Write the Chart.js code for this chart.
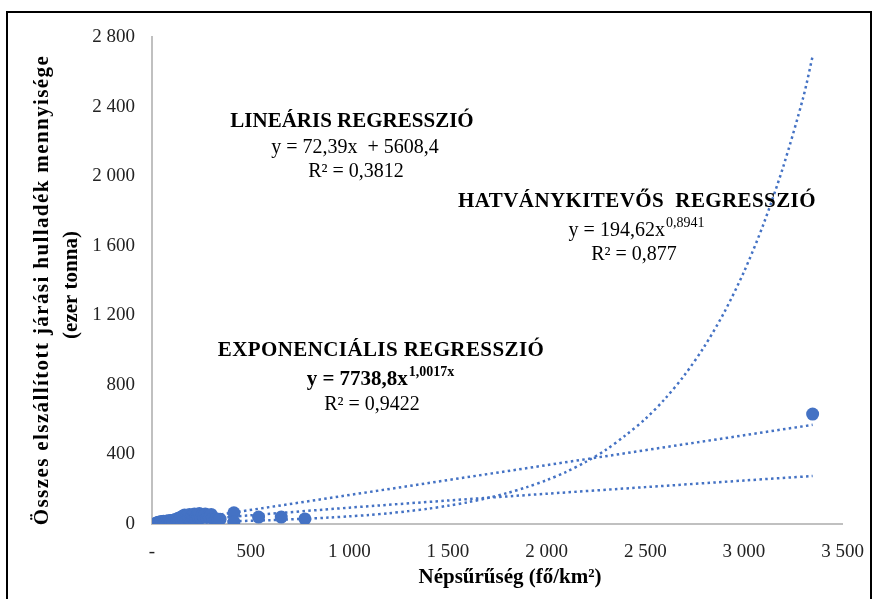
<!DOCTYPE html>
<html>
<head>
<meta charset="utf-8">
<script src="https://cdn.jsdelivr.net/npm/chart.js@4"></script>
<style>
html,body{margin:0;padding:0;background:#fff;}
#wrap{position:relative;width:873px;height:599px;}
</style>
</head>
<body>
<div id="wrap"><canvas id="c" width="873" height="599"></canvas></div>
<script>
// Népsűrűség (fő/km²) of the districts
const densities = [18,22,25,28,30,33,35,38,40,42,45,48,50,52,55,58,60,63,65,68,70,73,75,78,80,83,85,88,90,93,95,98,100,105,108,112,115,120,125,128,132,135,140,
  145,150,155,160,165,170,175,180,185,190,195,200,205,210,215,220,225,230,235,240,248,255,262,270,278,285,292,300,308,
  318,325,335,345,
  415,415,540,655,775,3348];
// Összes elszállított hulladék (ezer tonna)
const wasteValues = [3,5,2,8,4,10,6,3,12,7,5,14,9,4,11,16,7,13,5,10,15,8,17,12,6,14,18,10,16,8,20,13,17,22,11,19,24,15,28,20,33,18,26,
  38,22,45,30,52,25,40,48,35,55,28,44,50,36,58,30,46,54,40,60,35,52,45,57,38,50,42,55,33,
  25,30,22,28,
  64,12,40,40,29,632];

// Trend lines
const linTrendX = [30, 3348];
const linTrendY = [0, 570];
const powTrendX = [30, 200, 500, 1000, 1500, 2000, 2500, 3000, 3348];
const powTrendY = [4, 22, 50, 94, 135, 174, 212, 250, 276];
const expTrendX = [30, 300, 600, 900, 1000, 1100, 1200, 1300, 1400, 1500, 1600, 1700, 1800, 1900, 2000, 2100, 2200, 2300, 2400, 2500, 2600, 2700, 2800, 2900, 3000, 3100, 3200, 3300, 3348];
const expTrendY = [8, 13, 22, 37, 44, 52, 62, 74, 88, 105, 125, 149, 178, 212, 252, 300, 358, 426, 510, 604, 720, 858, 1022, 1217, 1450, 1727, 2058, 2451, 2690];

const xTicks = [0, 500, 1000, 1500, 2000, 2500, 3000, 3500];
const yTicks = [0, 400, 800, 1200, 1600, 2000, 2400, 2800];

const xTitle = 'Népsűrűség (fő/km²)';
const yTitle = ['Összes elszállított járási hulladék mennyisége', '(ezer tonna)'];

const BLUE = '#4472C4';
const SERIF = '"Liberation Serif", "Times New Roman", serif';

function pts(xs, ys){ return xs.map((x,i)=>({x:x, y:ys[i]})); }
function fmt(v){
  if (v >= 1000) return Math.floor(v/1000) + ' ' + String(v % 1000).padStart(3,'0');
  return String(v);
}

const trendStyle = {
  showLine: true, pointRadius: 0, pointHoverRadius: 0, borderColor: BLUE, borderWidth: 2.5,
  borderDash: [2.5, 3.3], fill: false, tension: 0.3
};

const textPlugin = {
  id: 'annot',
  afterDraw(chart){
    const ctx = chart.ctx;
    ctx.save();
    ctx.fillStyle = '#000';
    ctx.textBaseline = 'middle';
    function center(text, x, y, font, ls){
      ctx.font = font; ctx.textAlign = 'center';
      ctx.letterSpacing = (ls || 0) + 'px';
      ctx.fillText(text, x, y);
      ctx.letterSpacing = '0px';
    }
    function eqSup(main, sup, x, y, font, supFont){
      ctx.font = font; const w1 = ctx.measureText(main).width;
      ctx.font = supFont; const w2 = ctx.measureText(sup).width;
      const start = x - (w1 + w2)/2;
      ctx.textAlign = 'left';
      ctx.font = font; ctx.fillText(main, start, y);
      ctx.font = supFont; ctx.fillText(sup, start + w1 + 1, y - 8);
    }
    const B = 'bold 21px ' + SERIF, R = '20px ' + SERIF;
    center('LINEÁRIS REGRESSZIÓ', 352, 122, B);
    center('y = 72,39x  + 5608,4', 355, 148, R);
    center('R² = 0,3812', 356, 172, R);

    center('HATVÁNYKITEVŐS  REGRESSZIÓ', 637, 202, B, 0.4);
    eqSup('y = 194,62x', '0,8941', 636, 231, R, '14px ' + SERIF);
    center('R² = 0,877', 634, 255, R);

    center('EXPONENCIÁLIS REGRESSZIÓ', 381, 351, B, 0.4);
    eqSup('y = 7738,8x', '1,0017x', 380, 380, B, 'bold 14px ' + SERIF);
    center('R² = 0,9422', 372, 405, R);

    // axis titles
    center(xTitle, 510, 578, 'bold 21px ' + SERIF);
    ctx.save();
    ctx.translate(43, 290); ctx.rotate(-Math.PI/2);
    center(yTitle[0], 0, 0, 'bold 21px ' + SERIF, 1.4);
    ctx.restore();
    ctx.save();
    ctx.translate(72, 285); ctx.rotate(-Math.PI/2);
    center(yTitle[1], 0, 0, 'bold 21px ' + SERIF);
    ctx.restore();

    // outer frame
    ctx.strokeStyle = '#000'; ctx.lineWidth = 2;
    ctx.strokeRect(7, 12, 864, 620);
    ctx.restore();
  }
};

new Chart(document.getElementById('c'), {
  type: 'scatter',
  data: {
    datasets: [
      Object.assign({ label: 'lin', data: pts(linTrendX, linTrendY), order: 2 }, trendStyle, {tension: 0}),
      Object.assign({ label: 'pow', data: pts(powTrendX, powTrendY), order: 2 }, trendStyle),
      Object.assign({ label: 'exp', data: pts(expTrendX, expTrendY), order: 2 }, trendStyle),
      { label: 'data', data: pts(densities, wasteValues), backgroundColor: BLUE, borderColor: BLUE,
        pointRadius: 6.5, pointHoverRadius: 6.5, borderWidth: 0, order: 1 }
    ]
  },
  options: {
    responsive: false, animation: false, devicePixelRatio: 1,
    layout: { padding: { top: 37, right: 25, left: 0, bottom: 0 } },
    plugins: { legend: { display: false }, tooltip: { enabled: false } },
    scales: {
      x: {
        type: 'linear', min: 0, max: 3500,
        afterBuildTicks(s){ s.ticks = xTicks.map(v => ({value: v})); },
        afterFit(s){ s.height = 75; },
        grid: { display: false },
        border: { display: true, color: '#c0c0c0', width: 2 },
        ticks: { padding: 9, color: '#222', font: { family: SERIF, size: 19 },
          callback: v => v === 0 ? '-' : fmt(v), maxRotation: 0, autoSkip: false },
        title: { display: false }
      },
      y: {
        type: 'linear', min: 0, max: 2800,
        afterBuildTicks(s){ s.ticks = yTicks.map(v => ({value: v})); },
        afterFit(s){ s.width = 152; },
        grid: { display: false },
        border: { display: true, color: '#c0c0c0', width: 2 },
        ticks: { padding: 9, color: '#222', font: { family: SERIF, size: 19 },
          callback: v => fmt(v), autoSkip: false },
        title: { display: false }
      }
    }
  },
  plugins: [textPlugin]
});
</script>
</body>
</html>
